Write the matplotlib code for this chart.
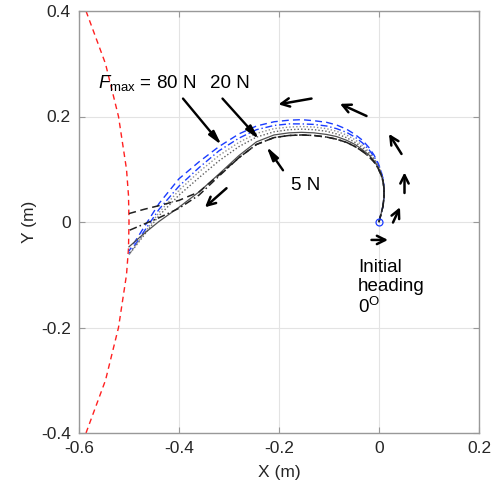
import matplotlib
matplotlib.use("Agg")
import matplotlib.pyplot as plt

plt.rcParams['font.family'] = ['Liberation Sans', 'DejaVu Sans']
plt.rcParams['mathtext.fontset'] = 'custom'
plt.rcParams['mathtext.rm'] = 'Liberation Sans'
plt.rcParams['mathtext.it'] = 'Liberation Sans:italic'
plt.rcParams['axes.unicode_minus'] = False

# Trajectory x samples (shared by all runs)
traj_x = [0, 0.004, 0.008, 0.010, 0.010, 0.008, 0.004, -0.002, -0.010, -0.020,
          -0.033, -0.048, -0.065, -0.085, -0.105, -0.13, -0.155, -0.18, -0.21,
          -0.245, -0.28, -0.32, -0.36, -0.40, -0.44, -0.47, -0.50]

# Trajectory y values for each run
y_blue_dash = [0, 0.015, 0.030, 0.048, 0.066, 0.082, 0.097, 0.112, 0.127, 0.141,
               0.155, 0.166, 0.176, 0.184, 0.189, 0.192, 0.194, 0.193, 0.190,
               0.182, 0.167, 0.143, 0.114, 0.082, 0.035, -0.010, -0.055]
y_blue_dashdot = [0, 0.015, 0.030, 0.048, 0.066, 0.081, 0.096, 0.110, 0.124, 0.137,
                  0.150, 0.161, 0.170, 0.177, 0.182, 0.185, 0.186, 0.186, 0.183,
                  0.175, 0.159, 0.135, 0.103, 0.068, 0.024, -0.018, -0.060]
y_gray_dot1 = [0, 0.015, 0.030, 0.048, 0.065, 0.080, 0.094, 0.108, 0.121, 0.133,
               0.145, 0.156, 0.165, 0.172, 0.177, 0.180, 0.181, 0.180, 0.177,
               0.168, 0.151, 0.126, 0.095, 0.060, 0.018, -0.022, -0.062]
y_gray_dot2 = [0, 0.015, 0.030, 0.047, 0.064, 0.079, 0.093, 0.106, 0.119, 0.130,
               0.141, 0.151, 0.160, 0.167, 0.172, 0.175, 0.176, 0.175, 0.171,
               0.161, 0.143, 0.116, 0.084, 0.051, 0.012, -0.025, -0.062]
y_black_solid = [0, 0.015, 0.030, 0.047, 0.064, 0.078, 0.092, 0.104, 0.116, 0.127,
                 0.137, 0.147, 0.155, 0.162, 0.166, 0.169, 0.170, 0.169, 0.165,
                 0.152, 0.126, 0.091, 0.057, 0.028, 0.001, -0.022, -0.047]
y_black_dash = [0, 0.015, 0.030, 0.047, 0.063, 0.077, 0.090, 0.102, 0.114, 0.124,
                0.134, 0.143, 0.151, 0.157, 0.161, 0.164, 0.165, 0.164, 0.160,
                0.147, 0.122, 0.089, 0.057, 0.041, 0.031, 0.024, 0.016]
y_black_dashdot = [0, 0.015, 0.030, 0.047, 0.063, 0.077, 0.090, 0.102, 0.114, 0.124,
                   0.134, 0.143, 0.151, 0.157, 0.161, 0.164, 0.165, 0.164, 0.160,
                   0.147, 0.122, 0.087, 0.051, 0.026, 0.008, -0.004, -0.016]

# Workspace boundary
bound_y = [-0.4, -0.3, -0.2, -0.1, -0.05, 0, 0.05, 0.1, 0.2, 0.3, 0.4]
bound_x = [-0.586, -0.547, -0.521, -0.505, -0.501, -0.5, -0.501, -0.505, -0.521, -0.547, -0.586]

# Heading arrows (tail, head)
heading_arrows = [
    ((-0.015, -0.034), (0.018, -0.034)),
    ((0.028, -0.001), (0.042, 0.028)),
    ((0.051, 0.055), (0.051, 0.094)),
    ((0.045, 0.129), (0.020, 0.167)),
    ((-0.025, 0.201), (-0.078, 0.224)),
    ((-0.135, 0.234), (-0.201, 0.223)),
    ((-0.305, 0.064), (-0.348, 0.028)),
]

xticks = [-0.6, -0.4, -0.2, 0, 0.2]
xticklabels = ['-0.6', '-0.4', '-0.2', '0', '0.2']
yticks = [-0.4, -0.2, 0, 0.2, 0.4]
yticklabels = ['-0.4', '-0.2', '0', '0.2', '0.4']

fig = plt.figure(figsize=(4.98, 4.87), dpi=100)
ax = fig.add_axes([79 / 498, 54 / 487, 400 / 498, 422 / 487])

blue = '#1a3cff'
ax.plot(bound_x, bound_y, color='#ff2020', ls=(0, (4, 3)), lw=1.0)
ax.plot(traj_x, y_blue_dash, color=blue, ls=(0, (5, 3)), lw=1.0)
ax.plot(traj_x, y_blue_dashdot, color=blue, ls=(0, (5, 2, 1, 2)), lw=1.0)
ax.plot(traj_x, y_gray_dot1, color='#909090', ls=(0, (1, 1.5)), lw=1.0)
ax.plot(traj_x, y_gray_dot2, color='#606060', ls=(0, (1, 1.5)), lw=1.0)
ax.plot(traj_x, y_black_solid, color='#505050', ls='-', lw=0.9)
ax.plot(traj_x, y_black_dash, color='#202020', ls=(0, (5, 3)), lw=1.1)
ax.plot(traj_x, y_black_dashdot, color='#202020', ls=(0, (5, 2, 1, 2)), lw=1.1)
ax.plot([0], [0], 'o', ms=5, mfc='none', mec=blue, mew=0.9)

for tail, head in heading_arrows:
    ax.annotate('', xy=head, xytext=tail,
                arrowprops=dict(arrowstyle='->,head_length=0.6,head_width=0.3',
                                color='black', lw=1.8, shrinkA=0, shrinkB=0))

label_arrow = dict(arrowstyle='-|>,head_length=0.8,head_width=0.2',
                   color='black', lw=1.7, shrinkA=0, shrinkB=0)
ax.annotate('', xy=(-0.315, 0.146), xytext=(-0.392, 0.234), arrowprops=label_arrow)
ax.annotate('', xy=(-0.240, 0.157), xytext=(-0.313, 0.234), arrowprops=label_arrow)
ax.annotate('', xy=(-0.225, 0.143), xytext=(-0.192, 0.098), arrowprops=label_arrow)

fs_lab = 13.5
ax.text(-0.562, 0.263, r'$F_{\rm max}$ = 80 N', fontsize=fs_lab, va='center', ha='left')
ax.text(-0.339, 0.263, '20 N', fontsize=fs_lab, va='center', ha='left')
ax.text(-0.177, 0.070, '5 N', fontsize=fs_lab, va='center', ha='left')
ax.text(-0.042, -0.125, 'Initial\nheading\n0$^{\\rm O}$', fontsize=fs_lab,
        va='center', ha='left', linespacing=1.15)

ax.set_xlim(-0.6, 0.2)
ax.set_ylim(-0.4, 0.4)
ax.set_xticks(xticks)
ax.set_xticklabels(xticklabels)
ax.set_yticks(yticks)
ax.set_yticklabels(yticklabels)
ax.grid(True, color='#e3e3e3', lw=0.8)
ax.set_axisbelow(True)
ax.tick_params(direction='in', length=4, width=0.8, colors='#999999',
               labelcolor='#262626', labelsize=12.5, top=True, right=True, pad=6)
for sp in ax.spines.values():
    sp.set_color('#999999')
    sp.set_linewidth(1.0)
ax.set_xlabel('X (m)', fontsize=12.5, color='#262626', labelpad=6)
ax.set_ylabel('Y (m)', fontsize=12.5, color='#262626', labelpad=3)

fig.savefig('out.png', dpi=100)
